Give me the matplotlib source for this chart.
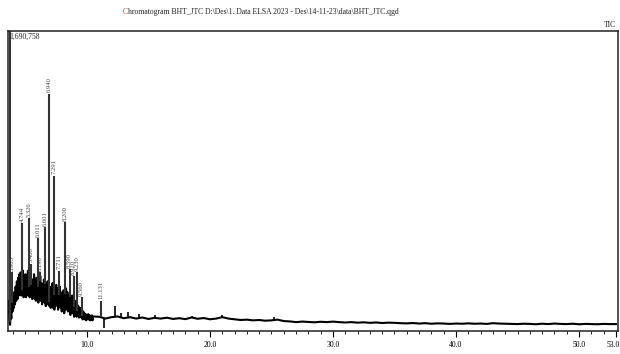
import numpy as np
import matplotlib
matplotlib.use("Agg")
import matplotlib.pyplot as plt
from matplotlib.transforms import offset_copy

# ---------------- data (intensity in thousands of counts) ----------------
hump_start, hump_step = 3.60, 0.05
hump_k = [170, 120, 60, 35, 110, 70, 160, 110, 190,
          130, 220, 150, 250, 170, 280, 180, 300, 200, 320,
          210, 330, 200, 300, 220, 340, 190, 290, 210, 320,
          190, 300, 220, 340, 200, 310, 190, 330, 220, 290,
          180, 290, 200, 320, 180, 280, 170, 300, 190, 270,
          160, 290, 180, 310, 170, 270, 150, 260, 170, 290,
          160, 270, 140, 250, 150, 280, 170, 250, 140, 230,
          130, 250, 150, 270, 130, 220, 120, 240, 140, 260,
          150, 240, 120, 220, 140, 250, 130, 210, 110, 220,
          130, 230, 100, 210, 120, 240, 140, 220, 110, 200,
          120, 210, 90, 180, 110, 200, 100, 170, 80, 150,
          100, 170, 80, 150, 90, 140, 75, 130, 80, 130,
          75, 120, 65, 110, 70, 100, 65, 95, 60, 90,
          70, 95, 65, 90, 60, 85, 62, 88, 60, 82]

tail_start, tail_step = 11.0, 0.5
tail_k = [80, 70, 78, 82, 72, 78, 70, 76, 68, 74,
          70, 75, 68, 72, 67, 76, 69, 73, 66, 70,
          78, 70, 66, 62, 64, 60, 62, 58, 60, 64,
          56, 54, 50, 53, 51, 49, 52, 50, 53, 50,
          48, 50, 47, 49, 46, 48, 45, 47, 46, 44,
          43, 45, 42, 44, 41, 43, 42, 40, 42, 41,
          43, 41, 42, 40, 44, 42, 41, 40, 39, 41,
          40, 38, 41, 39, 42, 40, 39, 41, 38, 40,
          39, 38, 40, 39, 39]

# labelled peaks: retention time (min), apex intensity (k counts), label
peak_rt = [3.72, 3.905, 4.744, 5.326, 5.480, 6.011, 6.190, 6.601, 6.940,
           7.291, 7.711, 8.200, 8.590, 8.920, 9.230, 9.560, 11.131]
peak_k = [1690.758, 330, 607, 635, 380, 522, 330, 584, 1337,
          876, 340, 612, 350, 310, 330, 190, 170]
peak_label = ["", "3.905", "4.744", "5.326", "5.480", "6.011", "6.190", "6.601", "6.940",
              "7.291", "7.711", "8.200", "8.590", "8.920", "9.230", "9.560", "11.131"]

# unlabelled spikes in the tail
spike_rt = [11.35, 12.30, 12.80, 13.30, 14.20, 15.50, 18.50, 21.00, 25.20]
spike_k = [15, 140, 100, 105, 95, 90, 85, 90, 78]

max_label = "1,690,758"
title_first = "C"
title_rest = "hromatogram BHT_JTC D:\\Des\\1. Data ELSA 2023 - Des\\14-11-23\\data\\BHT_JTC.qgd"
major_ticks = [10.0, 20.0, 30.0, 40.0, 50.0, 53.0]
minor_ticks = list(range(4, 54))

# ---------------- figure ----------------
plt.rcParams['font.family'] = ['Liberation Serif', 'DejaVu Serif']
fig = plt.figure(figsize=(6.2, 3.54), dpi=100)
ax = fig.add_axes([7.5 / 620, 1 - 331 / 354, (618 - 7.5) / 620, 300 / 354])

hump_t = hump_start + hump_step * np.arange(len(hump_k))
tail_t = tail_start + tail_step * np.arange(len(tail_k))
t = np.concatenate([hump_t, tail_t])
y = np.concatenate([hump_k, tail_k]) * 1000.0

ax.plot(t, y, color='black', lw=1.5)

for rt, h, lab in zip(peak_rt, peak_k, peak_label):
    base = np.interp(rt, t, y)
    ax.vlines(rt, base, h * 1000, color='#333333', lw=1.5)
    if lab:
        ax.annotate(lab, (rt, h * 1000), xytext=(0, 1), textcoords='offset points',
                    rotation=90, ha='center', va='bottom', fontsize=4.8, color='#444444')

for rt, h in zip(spike_rt, spike_k):
    base = np.interp(rt, t, y)
    ax.vlines(rt, base, h * 1000, color='black', lw=1.2)

ax.set_xlim(3.54, 53.17)
ax.set_ylim(0, 1690758)
ax.set_yticks([])
ax.set_xticks(major_ticks)
ax.set_xticklabels([f"{v:.1f}" for v in major_ticks], fontsize=5.5)
ax.set_xticks(minor_ticks, minor=True)
ax.tick_params(axis='x', which='major', length=4, width=0.8, pad=3, direction='out')
ax.tick_params(axis='x', which='minor', length=2.5, width=0.6, direction='out')
last = ax.get_xticklabels()[-1]
last.set_horizontalalignment('right')
last.set_transform(offset_copy(last.get_transform(), fig=fig, x=4, y=0, units='dots'))
for s in ax.spines.values():
    s.set_linewidth(1.1)
    s.set_color('#222222')

ax.text(0.003, 0.995, max_label, transform=ax.transAxes, ha='left', va='top',
        fontsize=5.5, color='#222222')
fig.text(616 / 620, 1 - 25 / 354, "TIC", ha='right', va='center', fontsize=5.5, color='#222222')
fig.text(128 / 620, 1 - 12 / 354, title_first, ha='right', va='center', fontsize=5.5, color='#a0522d')
fig.text(128 / 620, 1 - 12 / 354, title_rest, ha='left', va='center', fontsize=5.5, color='#222222')

fig.savefig("out.png", dpi=100)
